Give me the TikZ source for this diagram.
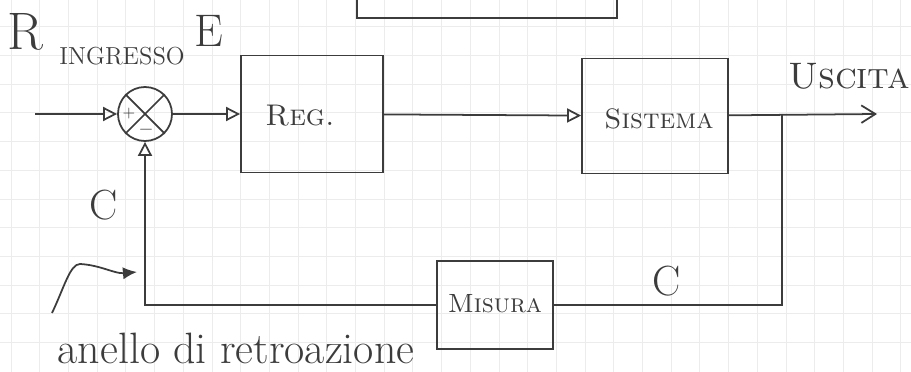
\documentclass[tikz,border=0pt]{standalone}
\usepackage{fontspec}
\usetikzlibrary{arrows.meta}
\definecolor{ink}{HTML}{3C3C3C}
\definecolor{paper}{HTML}{ECECEC}
\tikzset{
  blk/.style={draw=ink,line width=1pt,inner sep=0pt},
  lbl/.style={text=ink,inner sep=0pt},
  wire/.style={draw=ink,line width=1pt},
  arr/.style={wire,-{Triangle[open,length=8pt,width=8pt]}},
}

\begin{document}
\begin{tikzpicture}[x=0.2mm,y=-0.2mm]
  \useasboundingbox (0,0) rectangle (911,372);
  % paper grid
  \foreach \i in {0,...,31}{
     \draw[paper,line width=0.4pt] ({11+\i*28.7},0)--({11+\i*28.7},372);}
  \foreach \j in {0,...,12}{
     \draw[paper,line width=0.4pt] (0,{-2+\j*28.7})--(911,{-2+\j*28.7});}
  % blocks
  \node[blk,line width=1.6pt,minimum width=5.2cm,minimum height=1.6cm] (title) at (487,-22){};
  \node[blk,circle,minimum size=1.08cm] (sum) at (145,114){};
  \draw[ink,line width=1pt] (sum.north west)--(sum.south east) (sum.north east)--(sum.south west);
  \node[lbl,font=\fontsize{9}{9}\selectfont] (plus) at (129,114){$+$};
  \node[lbl,font=\fontsize{11}{11}\selectfont] (minus) at (146,130){$-$};
  \node[blk,minimum width=2.84cm,minimum height=2.34cm] (reg) at (312,114){};
  \node[lbl,font=\fontsize{17}{17}\selectfont] (regtxt) at (300,116){\textsc{Reg.}};
  \node[blk,minimum width=2.92cm,minimum height=2.3cm] (sys) at (655,116){};
  \node[lbl,font=\fontsize{16}{16}\selectfont] (systxt) at (659,119){\textsc{Sistema}};
  \node[blk,minimum width=2.32cm,minimum height=1.76cm] (mis) at (495,305){};
  \node[lbl,font=\fontsize{15}{15}\selectfont] (mistxt) at (495,304){\textsc{Misura}};
  % labels
  \node[lbl,font=\fontsize{30}{30}\selectfont] (r) at (25,32){R};
  \node[lbl,font=\fontsize{14}{14}\selectfont] (ingr) at (122,56){INGRESSO};
  \node[lbl,font=\fontsize{26}{26}\selectfont] (e) at (209,31){E};
  \node[lbl,font=\fontsize{21}{21}\selectfont] (usc) at (849,76){\textsc{Uscita}};
  \node[lbl,font=\fontsize{24}{24}\selectfont] (cl) at (104,205){C};
  \node[lbl,font=\fontsize{24}{24}\selectfont] (cb) at (667,281){C};
  \node[lbl,font=\fontsize{25}{25}\selectfont] (anello) at (236,348){anello di retroazione};
  % connectors
  \coordinate (in) at (35,114);
  \coordinate (out) at (877,114);
  \coordinate (br) at (782,114);
  \draw[arr] (in)--(sum);
  \draw[arr] (sum)--(reg);
  \draw[arr] (reg)--(sys);
  \draw[wire,-{Straight Barb[length=8pt,width=10pt]}] (sys)--(out);
  \draw[wire] (br)|-(mis.east);
  \draw[arr] (mis.west)-|(sum.south);
  \coordinate (note) at (52,313);
  \coordinate (tip) at (137,272);
  \draw[wire,-{Latex[length=8pt,width=7pt]}] (note) .. controls (64,288) and (70,264) .. (80,264)
     .. controls (100,265) and (115,274) .. (tip);
\end{tikzpicture}
\end{document}
